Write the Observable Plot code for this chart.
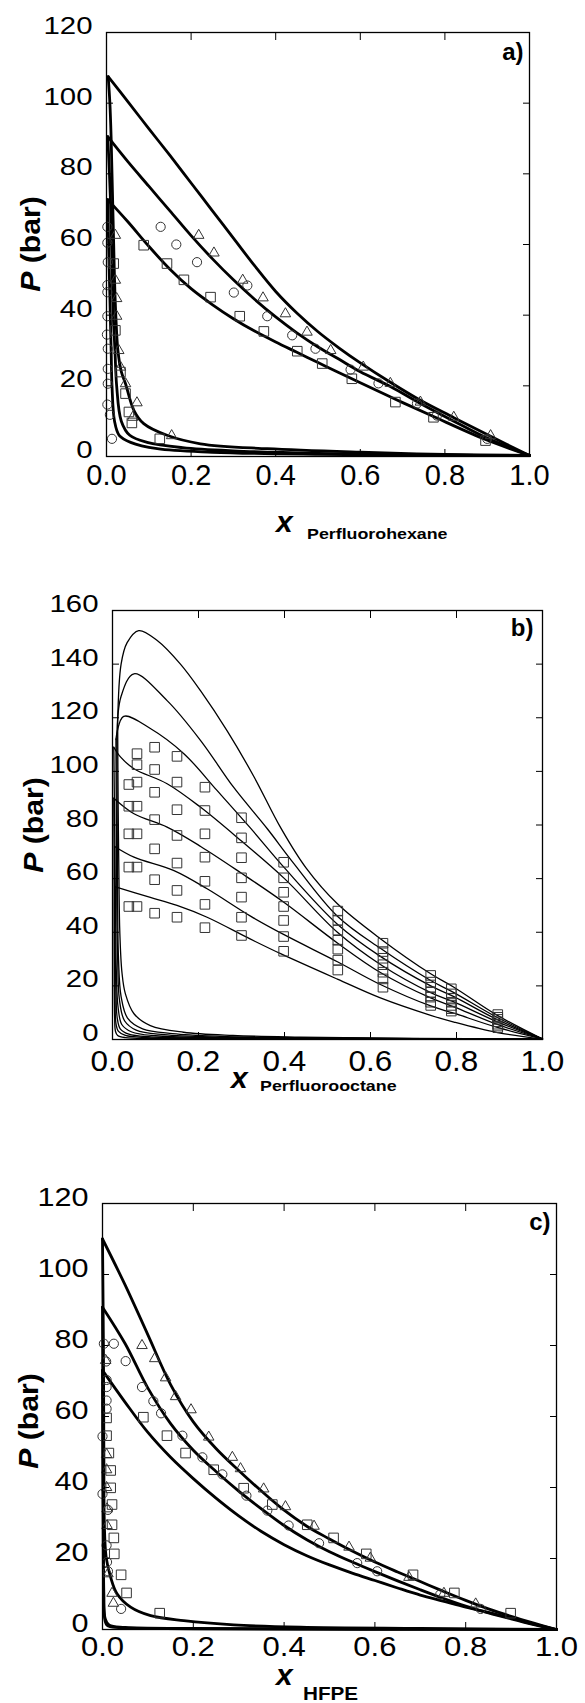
<!DOCTYPE html>
<html><head><meta charset="utf-8">
<script src="https://cdn.jsdelivr.net/npm/d3@7"></script>
<script src="https://cdn.jsdelivr.net/npm/@observablehq/plot@0.6"></script>
<style>
body{margin:0;background:#fff;}
#chart{width:585px;}
#chart svg{display:block;}
</style></head><body><div id="chart"></div>
<script>
// ---------- shared ticks ----------
const xTicks = [0, 0.2, 0.4, 0.6, 0.8, 1.0];
const yTicksA = [0, 20, 40, 60, 80, 100, 120];
const yTicksB = [0, 20, 40, 60, 80, 100, 120, 140, 160];
const yTicksC = [0, 20, 40, 60, 80, 100, 120];

// ---------- panel a : Perfluorohexane ----------
const aBubble1 = [[0.004,107.5],[0.05,100.5],[0.1,92.8],[0.15,85.2],[0.2,77.4],[0.25,69.6],[0.3,61.8],[0.35,54],[0.4,46.7],[0.45,40.6],[0.5,35.3],[0.55,30.7],[0.6,26.5],[0.671,21],[0.742,15.9],[0.821,11],[0.908,5.7],[1.0,0.3]];
const aBubble2 = [[0.003,90.5],[0.05,83.5],[0.1,76.5],[0.15,69.5],[0.2,62.5],[0.25,56],[0.3,50],[0.35,44.5],[0.4,39.5],[0.45,35],[0.5,31],[0.55,27.5],[0.6,24],[0.671,19.8],[0.742,15],[0.821,10],[0.9,5.2],[1.0,0.3]];
const aBubble3 = [[0.003,72.7],[0.05,66.5],[0.1,59.5],[0.15,53],[0.2,47.5],[0.25,43],[0.3,39],[0.35,35.5],[0.4,32.4],[0.45,29.5],[0.5,26.6],[0.55,23.7],[0.6,20.9],[0.683,16.2],[0.773,11.3],[0.896,4.8],[1.0,0.3]];
const aDew1 = [[0.004,107.5],[0.008,100],[0.011,90],[0.013,80],[0.015,70],[0.017,60],[0.019,50],[0.022,40],[0.027,30],[0.035,24],[0.045,20.6],[0.065,13],[0.088,9.3],[0.143,6],[0.222,3.6],[0.38,2.2],[0.6,1.2],[0.8,0.6],[1.0,0.3]];
const aDew2 = [[0.003,90.5],[0.007,80],[0.01,70],[0.012,60],[0.014,50],[0.016,40],[0.02,30],[0.024,20],[0.035,10],[0.055,6],[0.096,4],[0.18,2.5],[0.3,1.6],[0.5,0.9],[0.8,0.4],[1.0,0.3]];
const aDew3 = [[0.003,72.7],[0.005,60],[0.007,50],[0.009,40],[0.011,30],[0.013,20],[0.019,10],[0.03,6],[0.057,4],[0.12,2.2],[0.25,1.2],[0.5,0.6],[0.8,0.35],[1.0,0.3]];
const aCircles = [[0.128,65],[0.165,60],[0.214,55],[0.301,46.4],[0.333,48.4],[0.38,39.7],[0.439,34.3],[0.494,30.5],[0.577,24.6],[0.643,20.7],[0.734,15],[0.781,11.6],[0.9,5],
  [0.002,65],[0.002,60.5],[0.003,55],[0.002,48.5],[0.002,46.5],[0.002,39.7],[0.001,34.5],[0.003,30.5],[0.003,24.8],[0.003,20.6],[0.002,14.7],[0.008,11.8],[0.013,5]];
const aTriangles = [[0.218,62.6],[0.254,57.6],[0.322,49.9],[0.37,44.9],[0.423,40.4],[0.474,35.2],[0.53,30],[0.607,25.3],[0.671,20.7],[0.742,15.4],[0.821,11.1],[0.908,5.9],
  [0.021,62.6],[0.021,49.9],[0.024,44.7],[0.024,39.7],[0.029,30],[0.033,25.3],[0.045,20.6],[0.072,15.2],[0.062,11.1],[0.154,5.9]];
const aSquares = [[0.088,59.8],[0.143,54.6],[0.183,50],[0.246,45.1],[0.315,39.7],[0.372,35.4],[0.451,29.8],[0.51,26.3],[0.58,22],[0.683,15.4],[0.773,11.1],[0.896,4.5],
  [0.017,54.6],[0.021,35.7],[0.033,23.9],[0.045,17.8],[0.053,12.6],[0.06,9.5],[0.126,5]];

// ---------- panel b : Perfluorooctane ----------
const bBubble1 = [[0.012,118],[0.02,140],[0.034,148],[0.061,152.5],[0.104,148.8],[0.158,140],[0.205,130],[0.267,115],[0.329,98],[0.391,79],[0.45,64],[0.523,50.6],[0.623,37.6],[0.74,24.5],[0.794,19.5],[0.895,9],[1.0,0.2]];
const bBubble2 = [[0.01,112],[0.02,128],[0.05,136.4],[0.127,126.4],[0.205,111.5],[0.282,94],[0.36,78.6],[0.42,66],[0.523,46],[0.623,34],[0.74,22],[0.794,17.5],[0.895,8.2],[1.0,0.2]];
const bBubble3 = [[0.008,112],[0.026,120.5],[0.088,116],[0.166,106.6],[0.243,92.9],[0.32,79],[0.4,64],[0.523,43],[0.623,31],[0.74,20],[0.794,16],[0.895,7.4],[1.0,0.2]];
const bBubble4 = [[0.003,109],[0.019,105.3],[0.05,101],[0.127,95.4],[0.205,86.6],[0.3,74],[0.4,60],[0.523,40],[0.623,28],[0.74,17.5],[0.794,14],[0.895,6.6],[1.0,0.2]];
const bBubble5 = [[0.003,90],[0.05,84.2],[0.127,79.2],[0.205,72],[0.3,62],[0.4,51],[0.523,36],[0.623,25],[0.74,15.5],[0.794,12.2],[0.895,5.6],[1.0,0.2]];
const bBubble6 = [[0.005,72],[0.05,68],[0.143,63],[0.22,56.2],[0.321,46],[0.4,39],[0.523,29],[0.623,20.5],[0.74,12.5],[0.794,9.8],[0.895,4.5],[1.0,0.2]];
const bBubble7 = [[0.005,57],[0.088,53],[0.15,50],[0.22,45.6],[0.32,37.5],[0.391,32],[0.523,22.5],[0.623,15.5],[0.74,9],[0.794,6.5],[0.895,2.6],[1.0,0.2]];
const bDew1 = [[0.012,118],[0.013,90],[0.015,60],[0.017,40],[0.022,25],[0.03,17],[0.05,9.6],[0.088,5.2],[0.165,2.7],[0.28,1.5],[0.437,0.9],[0.7,0.4],[1.0,0.2]];
const bDew2 = [[0.01,112],[0.011,80],[0.012,50],[0.014,30],[0.02,16],[0.035,8],[0.07,4],[0.14,2.2],[0.25,1.2],[0.45,0.6],[1.0,0.2]];
const bDew3 = [[0.008,112],[0.009,80],[0.01,50],[0.012,30],[0.016,15],[0.028,7],[0.055,3.5],[0.12,1.8],[0.25,0.9],[0.5,0.5],[1.0,0.2]];
const bDew4 = [[0.003,109],[0.005,80],[0.007,50],[0.009,25],[0.013,12],[0.022,5.5],[0.045,2.8],[0.1,1.4],[0.25,0.7],[1.0,0.2]];
const bDew5 = [[0.003,90],[0.004,60],[0.006,35],[0.008,18],[0.011,8],[0.018,4],[0.038,2],[0.09,1],[0.25,0.5],[1.0,0.2]];
const bDew6 = [[0.005,72],[0.004,50],[0.005,30],[0.006,15],[0.008,6],[0.014,3],[0.03,1.5],[0.08,0.7],[0.25,0.4],[1.0,0.2]];
const bDew7 = [[0.005,57],[0.004,40],[0.004,20],[0.005,8],[0.007,3],[0.012,1.5],[0.03,0.7],[0.1,0.4],[1.0,0.2]];
const bSquareX = [0.038, 0.057, 0.098, 0.15, 0.215, 0.3, 0.398, 0.524, 0.629, 0.74, 0.788, 0.896];
const bSquareP = [
  [95.1, 87, 76.7, 64.3, 49.6],
  [106.6, 102.5, 96, 87, 76.7, 64.3, 49.6],
  [109, 100.7, 92.2, 82, 71.1, 59.6, 47.1],
  [105.6, 96, 85.7, 76.1, 65.8, 55.6, 45.6],
  [94.1, 85.4, 76.7, 68, 59, 50.4, 41.7],
  [82.7, 75.2, 67.8, 60.3, 53.1, 45.6, 38.8],
  [66.1, 60.3, 54.9, 49.6, 44.4, 38.4, 32.9],
  [47.9, 44.5, 40.8, 37.0, 33.7, 29.6, 25.9],
  [35.9, 32.8, 30.3, 27.9, 25.1, 22.6, 19.5],
  [23.9, 21.4, 19.5, 17.6, 15.8, 13.9, 12.7],
  [18.9, 17.0, 15.4, 13.9, 12.7, 11.5, 10.6],
  [9.3, 8.3, 7.5, 6.6, 5.7, 5.0, 4.4]
];

// ---------- panel c : HFPE ----------
const cBubble1 = [[0.0,110],[0.05,97],[0.1,83],[0.15,69],[0.2,58.5],[0.25,51],[0.3,44.8],[0.35,39],[0.4,33.6],[0.45,29.1],[0.5,25.5],[0.55,22.1],[0.6,19],[0.65,16.2],[0.7,13.5],[0.75,10.8],[0.8,8.2],[0.85,5.8],[0.9,3.7],[0.95,1.8],[1.0,0]];
const cBubble2 = [[0.0,90.8],[0.05,80.5],[0.1,68],[0.15,58],[0.2,50.5],[0.25,44.5],[0.3,39],[0.35,34],[0.4,29.3],[0.45,25.3],[0.5,21.9],[0.55,19],[0.6,16.3],[0.65,13.7],[0.7,11.2],[0.75,8.8],[0.8,6.6],[0.85,4.7],[0.9,3],[0.95,1.4],[1.0,0]];
const cBubble3 = [[0.0,73],[0.05,64],[0.1,55.5],[0.15,48.5],[0.2,42.5],[0.25,37],[0.3,32],[0.35,27.6],[0.4,23.9],[0.45,20.8],[0.5,18.2],[0.55,15.9],[0.6,13.8],[0.65,11.7],[0.7,9.7],[0.75,8],[0.8,6.3],[0.85,4.8],[0.9,3.2],[0.95,1.5],[1.0,0]];
const cDew1 = [[0.0,110],[0.002,80],[0.003,50],[0.004,30],[0.008,20.4],[0.018,14.7],[0.032,10.1],[0.062,6.3],[0.106,3.9],[0.179,2.5],[0.289,1.3],[0.436,0.65],[0.7,0.3],[1.0,0]];
const cDew2 = [[0.0,90.8],[0.001,60],[0.002,30],[0.003,10],[0.006,3],[0.015,1.2],[0.05,0.6],[0.2,0.3],[1.0,0]];
const cDew3 = [[0.0,73],[0.001,40],[0.002,15],[0.004,4],[0.01,1.2],[0.04,0.5],[0.2,0.2],[1.0,0]];
const cCircles = [[0.087,68.3],[0.112,64.3],[0.129,60.9],[0.176,54.6],[0.22,48.5],[0.264,43.7],[0.317,37.7],[0.363,33.5],[0.41,29.3],[0.477,24.3],[0.561,18.7],[0.605,16.4],[0.744,9.9],[0.833,5.8],
  [0.003,80.5],[0.025,80.5],[0.008,75.5],[0.051,75.6],[0.009,70.3],[0.009,68.3],[0.009,64.5],[0.009,62.2],[0.0,54.4],[0.0,38.2],[0.012,33.7],[0.009,23.7],[0.01,19],[0.012,16.4],[0.041,5.8]];
const cTriangles = [[0.087,80],[0.115,76.3],[0.139,70.9],[0.161,65.6],[0.195,61.9],[0.234,54.2],[0.286,48.5],[0.304,45.3],[0.355,39.6],[0.403,34.6],[0.466,29.1],[0.543,23.2],[0.59,20.1],[0.675,14.7],[0.752,10.2],[0.822,7.2],
  [0.007,75.8],[0.009,49.3],[0.009,45],[0.009,40],[0.01,34],[0.01,29.3],[0.012,15.7],[0.021,10.2],[0.024,7.4]];
const cSquares = [[0.09,59.8],[0.142,54.6],[0.183,49.7],[0.245,45],[0.311,39.8],[0.374,35.2],[0.451,29.5],[0.509,25.8],[0.581,21.3],[0.684,15.4],[0.775,10.3],[0.899,4.6],
  [0.009,59.6],[0.009,54.6],[0.014,49.7],[0.018,44.8],[0.018,39.9],[0.021,35.2],[0.021,29.5],[0.025,25.8],[0.026,21.3],[0.041,15.4],[0.053,10.3],[0.126,4.6]];

// ---------- helpers ----------
const FONT = "'Liberation Sans', Arial, Helvetica, sans-serif";
function rows(series) {
  const out = [];
  for (const [name, pts] of Object.entries(series)) for (const [x, y] of pts) out.push({x, y, s: name});
  return out;
}
function pts(arr) { return arr.map(([x, y]) => ({x, y})); }
function scaleTexts(svg, label, sx) {
  d3.select(svg).selectAll(`g[aria-label="${label}"] text`).each(function () {
    let t = this.getAttribute("transform");
    if (!t) {
      const x = this.getAttribute("x") || 0, y = this.getAttribute("y") || 0;
      t = `translate(${x},${y})`;
      this.removeAttribute("x"); this.removeAttribute("y");
    }
    this.setAttribute("transform", `${t} scale(${sx},1)`);
  });
}

function panel(o) {
  const marks = [
    Plot.axisX(xTicks, {anchor: "bottom", tickSize: -7, tickFormat: () => "", label: null}),
    Plot.axisX(xTicks, {anchor: "top", tickSize: -7, tickFormat: () => "", label: null}),
    Plot.axisY(o.yTicks, {anchor: "left", tickSize: -7, tickFormat: () => "", label: null}),
    Plot.axisY(o.yTicks, {anchor: "right", tickSize: -7, tickFormat: () => "", label: null}),
    Plot.axisX(xTicks, {anchor: "bottom", tickSize: 0, tickPadding: o.xPad, fontSize: o.xFont, tickFormat: d3.format(".1f"), label: null}),
    Plot.axisY(o.yTicks, {anchor: "left", tickSize: 0, tickPadding: 14, fontSize: o.yFont, dy: -6, label: null}),
    Plot.line(rows(o.lines), {x: "x", y: "y", z: "s", stroke: "#000", strokeWidth: o.lw, curve: "catmull-rom"}),
    Plot.dot(pts(o.circles || []), {x: "x", y: "y", symbol: "circle", r: 4.6, stroke: "#333", strokeWidth: 1, fill: "none"}),
    Plot.dot(pts(o.triangles || []), {x: "x", y: "y", symbol: "triangle", r: 3.9, stroke: "#333", strokeWidth: 1, fill: "none"}),
    Plot.dot(pts(o.squares || []), {x: "x", y: "y", symbol: "square", r: 5.4, stroke: "#333", strokeWidth: 1, fill: "none"}),
    Plot.frame({stroke: "#000", strokeWidth: 1.3}),
    Plot.text([o.tag], {frameAnchor: "top-right", dx: o.tagDx, dy: o.tagDy, text: d => d, fontSize: 24, fontWeight: "bold", textAnchor: "end", lineAnchor: "top", fill: "#000"})
  ];
  const svg = Plot.plot({
    width: 585, height: o.height,
    marginTop: o.mt, marginBottom: o.mb, marginLeft: o.ml, marginRight: o.mr,
    style: {fontFamily: FONT, background: "#fff", color: "#000", overflow: "visible"},
    x: {domain: [0, 1]},
    y: {domain: [0, o.yMax]},
    marks
  });
  scaleTexts(svg, "x-axis tick label", o.xScale);
  scaleTexts(svg, "y-axis tick label", o.yScale);
  const s = d3.select(svg);
  // y title
  const yt = s.append("text")
    .attr("transform", `translate(${o.yTitleX},${o.yTitleY}) rotate(-90) scale(1.12,1)`)
    .attr("text-anchor", "middle").attr("font-family", FONT)
    .attr("font-weight", "bold").attr("font-size", 27).attr("fill", "#000");
  yt.append("tspan").attr("font-style", "italic").text("P");
  yt.append("tspan").text(" (bar)");
  // x title
  s.append("text").attr("x", o.xTitleX).attr("y", o.xTitleY).attr("text-anchor", "start")
    .attr("font-family", FONT).attr("font-weight", "bold").attr("font-style", "italic")
    .attr("font-size", 30).attr("fill", "#000").text("x");
  s.append("text").attr("transform", `translate(${o.subX},${o.subY}) scale(1.15,1)`).attr("text-anchor", "start")
    .attr("font-family", FONT).attr("font-weight", "bold")
    .attr("font-size", o.subFont).attr("fill", "#000").text(o.sub);
  return svg;
}

const root = document.getElementById("chart");
root.append(panel({
  height: 580, mt: 32, mb: 124, ml: 106, mr: 56, yMax: 120, yTicks: yTicksA,
  lw: 2.8,
  lines: {b1: aBubble1, b2: aBubble2, b3: aBubble3, d1: aDew1, d2: aDew2, d3: aDew3},
  circles: aCircles, triangles: aTriangles, squares: aSquares,
  tag: "a)", tagDx: -6, tagDy: 10,
  xFont: 29, xScale: 1.0, xPad: 8, yFont: 23.5, yScale: 1.25,
  yTitleX: 40, yTitleY: 244, xTitleX: 276, xTitleY: 532, sub: "Perfluorohexane", subX: 307, subY: 539, subFont: 15.5
}));
root.append(panel({
  height: 590, mt: 30, mb: 131, ml: 112, mr: 43, yMax: 160, yTicks: yTicksB,
  lw: 1.3,
  lines: {b1: bBubble1, b2: bBubble2, b3: bBubble3, b4: bBubble4, b5: bBubble5, b6: bBubble6, b7: bBubble7,
          d1: bDew1, d2: bDew2, d3: bDew3, d4: bDew4, d5: bDew5, d6: bDew6, d7: bDew7},
  squares: bSquareX.flatMap((x, i) => bSquareP[i].map(p => [x, p])),
  tag: "b)", tagDx: -9, tagDy: 8,
  xFont: 30, xScale: 1.05, xPad: 10, yFont: 23.5, yScale: 1.25,
  yTitleX: 43, yTitleY: 245, xTitleX: 231, xTitleY: 508, sub: "Perfluorooctane", subX: 260, subY: 511, subFont: 15.5
}));
root.append(panel({
  height: 533, mt: 33, mb: 74, ml: 102, mr: 29, yMax: 120, yTicks: yTicksC,
  lw: 2.8,
  lines: {b1: cBubble1, b2: cBubble2, b3: cBubble3, d1: cDew1, d2: cDew2, d3: cDew3},
  circles: cCircles, triangles: cTriangles, squares: cSquares,
  tag: "c)", tagDx: -6, tagDy: 9,
  xFont: 27, xScale: 1.15, xPad: 7, yFont: 25.5, yScale: 1.2,
  yTitleX: 38, yTitleY: 251, xTitleX: 276, xTitleY: 515, sub: "HFPE", subX: 303, subY: 530, subFont: 18
}));
</script></body></html>
